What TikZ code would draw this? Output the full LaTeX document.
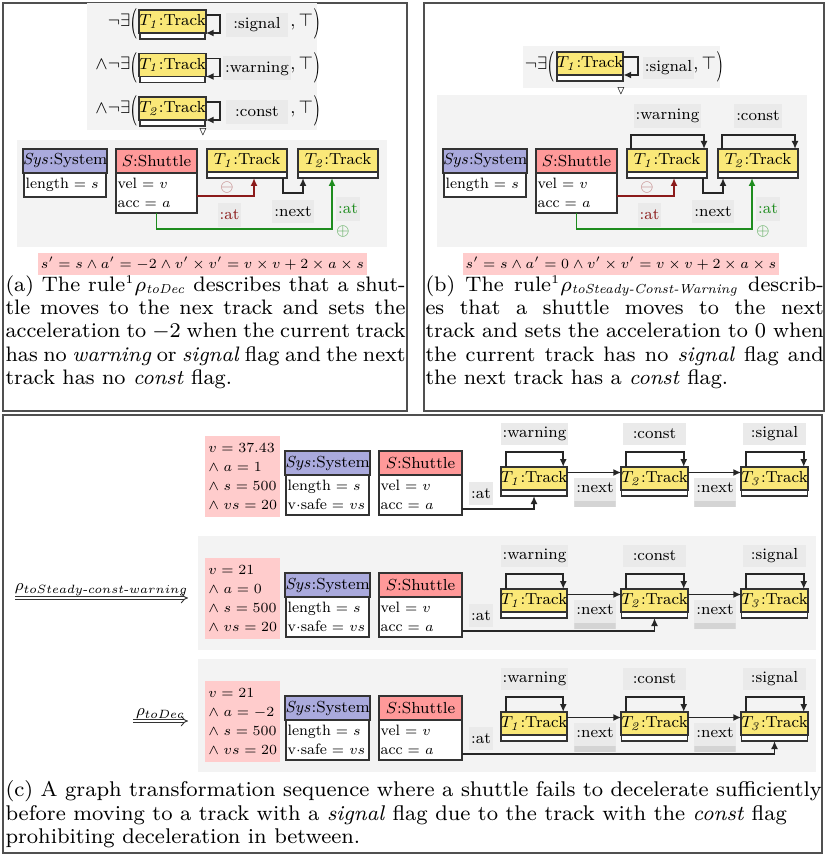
\documentclass[tikz,border=0pt]{standalone}
\usepackage{amsmath,amssymb,graphicx}
\usetikzlibrary{positioning,calc,arrows.meta}
\definecolor{graybg}{HTML}{F3F3F3}
\definecolor{lblgray}{HTML}{EAEAEA}
\definecolor{lbldark}{HTML}{D4D4D4}
\definecolor{condpink}{HTML}{FFCCCC}
\definecolor{sysblue}{HTML}{AAAADD}
\definecolor{shutred}{HTML}{FF9999}
\definecolor{trackyel}{HTML}{FAE878}
\definecolor{delred}{HTML}{8B1A1A}
\definecolor{addgreen}{HTML}{1E8C1E}
\definecolor{framegray}{HTML}{505050}
\newcommand{\diafont}{\fontsize{8}{9.5}\selectfont}
\newcommand{\attrfont}{\fontsize{7.5}{9.5}\selectfont}
\newcommand{\captfont}{\fontsize{8}{8.9}\selectfont}
\newcommand{\quantfont}{\fontsize{9}{10}\selectfont}
\newcommand{\capsub}[1]{\text{\fontsize{5}{5.5}\selectfont\itshape #1}}
\newcommand{\capsup}{\textsuperscript{\fontsize{4.5}{5}\selectfont 1}}
\newcommand{\lpar}{\raisebox{-2.6pt}{\scalebox{1}[1.7]{(}}}
\newcommand{\rpar}{\raisebox{-2.6pt}{\scalebox{1}[1.7]{)}}}
\tikzset{
  objhead/.style={draw=black!80,line width=0.9pt,minimum height=12pt,inner sep=0pt,outer sep=0pt},
  objbody/.style={draw=black!80,line width=0.9pt,fill=white,inner xsep=0.8pt,inner ysep=2.6pt,outer sep=0pt,align=left,font=\attrfont},
  objstrip/.style={draw=black!80,line width=0.9pt,fill=white,minimum height=3pt,inner sep=0pt,outer sep=0pt},
  flaglbl/.style={fill=lblgray,inner sep=1pt,minimum height=11.5pt},
  nextlbl/.style={flaglbl,minimum width=19pt,inner ysep=1.5pt,text height=6pt,text depth=5.5pt,
    path picture={\fill[lbldark] (path picture bounding box.south west) rectangle ([yshift=3pt]path picture bounding box.south east);}},
  condbox/.style={fill=condpink,inner sep=1.5pt,align=left,font=\attrfont},
  conn/.style={draw=black!85,line width=0.8pt,-{Latex[length=4pt,width=3.5pt]}},
  dblarr/.style={draw=black!80,double,double distance=1.4pt,line width=0.45pt,-{Implies}},
  quant/.style={font=\quantfont,inner sep=0.5pt},
  panelframe/.style={draw=framegray,line width=0.7pt},
  capnode/.style={font=\captfont,anchor=north west,inner sep=0pt},
}
% class box: name, x, top, width, colour, title, attributes
\newcommand{\objbox}[7]{\pgfmathsetlengthmacro\bodyw{#4-1.6pt}%
  \node[objhead,fill=#5,minimum width=#4,anchor=north] (#1) at (#2,#3) {#6};
  \node[objbody,text width=\bodyw,below=0pt of #1] (#1b) {#7};}
% track: name, x, top, width, title
\newcommand{\trackbox}[5]{%
  \node[objhead,fill=trackyel,minimum width=#4,minimum height=11.5pt,anchor=north] (#1) at (#2,#3) {#5};
  \node[objstrip,minimum width=#4,below=0pt of #1] (#1b) {};}
% rule graph of (a) and (b): prefix, x offset
\newcommand{\rulegraph}[2]{\begin{scope}[shift={(#2,0)}]
  \fill[graybg] (17,140) rectangle (387,247);
  \objbox{#1sys}{65}{149}{41pt}{sysblue}{$\mathit{Sys}$:System}{length $=$ $s$}
  \objbox{#1sh}{156.5}{149}{40.5pt}{shutred}{$S$:Shuttle}{vel $=$ $v$\\acc $=$ $a$}
  \trackbox{#1ta}{247}{149}{40pt}{$T_{\mathit{1}}$:Track}
  \trackbox{#1tb}{338}{149}{40pt}{$T_{\mathit{2}}$:Track}
  \draw[conn,delred] ([yshift=-11.5pt]#1shb.north east) -| ([xshift=3.5pt]#1tab.south);
  \node[text=delred!60] (#1del) at (227,188) {$\ominus$};
  \node[flaglbl,text=delred,minimum width=11.5pt,minimum height=12pt] (#1atd) at (229.5,215) {:at};
  \draw[conn] ([xshift=-2pt]#1tab.south east) -- ++(0,-7.5pt) -| ([xshift=2.5pt]#1tbb.south west);
  \node[flaglbl,minimum width=19pt] (#1nx) at (293,211.5) {:next};
  \draw[conn,addgreen] (#1shb.south) -- ++(0,-8pt) -| ([xshift=-3pt]#1tbb.south);
  \node[flaglbl,text=addgreen,minimum width=10pt,minimum height=12pt] (#1atc) at (348,209) {:at};
  \node[text=addgreen!80] (#1add) at (343,232) {$\oplus$};
\end{scope}}
% one state of the sequence (c): prefix, y offset, v, a, track of shuttle
\newcommand{\seqrow}[5]{\begin{scope}[shift={(0,#2)}]
  \node[condbox,anchor=north west,minimum height=40.5pt,minimum width=36pt] (#1c) at (205,436) {$v = #3$\\$\wedge\; a = #4$\\$\wedge\; s = 500$\\$\wedge\; vs = 20$};
  \objbox{#1sys}{327.5}{451}{41.5pt}{sysblue}{$\mathit{Sys}$:System}{length $=$ $s$\\v$\cdot$safe $=$ $vs$}
  \objbox{#1sh}{420.5}{451}{41.5pt}{shutred}{$S$:Shuttle}{vel $=$ $v$\\acc $=$ $a$}
  \trackbox{#1ta}{534}{467}{33pt}{$T_{\mathit{1}}$:Track}
  \trackbox{#1tb}{654.5}{467}{33pt}{$T_{\mathit{2}}$:Track}
  \trackbox{#1tc}{774.5}{467}{33pt}{$T_{\mathit{3}}$:Track}
  \node[flaglbl,minimum width=31.5pt,minimum height=11pt] (#1fa) at (534.5,434) {:warning};
  \node[flaglbl,minimum width=31.5pt,minimum height=11pt] (#1fb) at (654.5,434) {:const};
  \node[flaglbl,minimum width=31.5pt,minimum height=11pt] (#1fc) at (774.5,434) {:signal};
  \foreach \tk in {ta,tb,tc}
    \draw[conn] ([xshift=2.5pt]#1\tk.north west) -- ++(0,7.5pt) -| ([xshift=-2pt]#1\tk.north east);
  \draw[conn] ([yshift=3pt]#1ta.east) -- ([yshift=3pt]#1tb.west);
  \draw[conn] ([yshift=3pt]#1tb.east) -- ([yshift=3pt]#1tc.west);
  \node[nextlbl] (#1na) at (595,492) {:next};
  \node[nextlbl] (#1nb) at (715,492) {:next};
  \node[flaglbl,minimum width=11pt] (#1at) at (481,493.5) {:at};
  \draw[conn] ([yshift=3pt]#1shb.south east) -| (#1#5b.south);
\end{scope}}

\begin{document}
\begin{tikzpicture}[x=0.5pt,y=-0.5pt,font=\diafont]
\useasboundingbox (0,0) rectangle (826,854);
\draw[panelframe] (3,3) rectangle (407,411);
\draw[panelframe] (424,3) rectangle (824,411);
\draw[panelframe] (3,415) rectangle (822,853);

% (a) application condition
\fill[graybg] (87,3) rectangle (317,130);
\trackbox{naa}{172.5}{10}{32.5pt}{$T_{\mathit{1}}$:Track}
\trackbox{nab}{172.5}{53.5}{32.5pt}{$T_{\mathit{1}}$:Track}
\trackbox{nac}{172.5}{97}{32.5pt}{$T_{\mathit{2}}$:Track}
\node[quant,anchor=east] (qaa) at (139,24) {$\neg\exists$\lpar};
\node[quant,anchor=east] (qab) at (139,67.5) {$\wedge\neg\exists$\lpar};
\node[quant,anchor=east] (qac) at (139,111) {$\wedge\neg\exists$\lpar};
\foreach \nn in {naa,nab,nac}
  \draw[conn] ([yshift=-2.5pt]\nn.north east) -- ++(7pt,0) |- (\nn.south east);
\node[flaglbl,minimum width=31pt,minimum height=12pt] (faa) at (257,25) {:signal};
\node[flaglbl,minimum width=31pt,minimum height=12pt] (fab) at (257,68.5) {:warning};
\node[flaglbl,minimum width=31pt,minimum height=12pt] (fac) at (257,112) {:const};
\node[quant,anchor=west] (eaa) at (289,24) {$,\top$\rpar};
\node[quant,anchor=west] (eab) at (289,67.5) {$,\top$\rpar};
\node[quant,anchor=west] (eac) at (289,111) {$,\top$\rpar};
\node[font=\fontsize{6}{6}\selectfont,inner sep=0pt] (tria) at (203,132) {$\triangledown$};

% (a) rule
\rulegraph{a}{0}
\node[condbox,minimum width=159.5pt,minimum height=11pt] (conda) at (202.5,264) {$s' = s \wedge a' = -2 \wedge v' \times v' = v \times v + 2 \times a \times s$};
\node[capnode,scale=1.31,align=justify,text width=152.7pt] (capa) at (5,275) {(a) The rule\capsup$\rho_{\capsub{toDec}}$ describes that a shut-\linebreak tle moves to the nex track and sets the\linebreak acceleration to $-2$ when the current track\linebreak has no \textit{warning} or \textit{signal} flag and the next\linebreak track has no \textit{const} flag.};

% (b) application condition
\fill[graybg] (523,46) rectangle (720,88);
\trackbox{nba}{590}{52}{33pt}{$T_{\mathit{1}}$:Track}
\node[quant,anchor=east] (qba) at (556,67) {$\neg\exists$\lpar};
\draw[conn] ([yshift=-2.5pt]nba.north east) -- ++(7.5pt,0) |- (nba.south east);
\node[flaglbl,minimum width=23.5pt,minimum height=11pt] (fba) at (668.5,68) {:signal};
\node[quant,anchor=west] (eba) at (692,67) {$,\top$\rpar};
\node[font=\fontsize{6}{6}\selectfont,inner sep=0pt] (trib) at (621,91) {$\triangledown$};

% (b) rule
\fill[graybg] (437,95) rectangle (807,140);
\rulegraph{b}{420}
\node[flaglbl,minimum width=30.5pt,minimum height=12pt] (fbw) at (667.5,116) {:warning};
\node[flaglbl,minimum width=22pt,minimum height=12pt] (fbc) at (758,116) {:const};
\draw[conn] ([xshift=2pt]bta.north west) -- ++(0,7pt) -| ([xshift=-1.5pt]bta.north east);
\draw[conn] ([xshift=2pt]btb.north west) -- ++(0,7pt) -| ([xshift=-1.5pt]btb.north east);
\node[condbox,minimum width=152pt,minimum height=11pt] (condb) at (621,264) {$s' = s \wedge a' = 0 \wedge v' \times v' = v \times v + 2 \times a \times s$};
\node[capnode,scale=1.31,align=justify,text width=152pt] (capb) at (425,275) {(b) The rule\capsup$\rho_{\capsub{toSteady-Const-Warning}}$ describ-\linebreak es that a shuttle moves to the next\linebreak track and sets the acceleration to 0 when\linebreak the current track has no \textit{signal} flag and\linebreak the next track has a \textit{const} flag.};

% (c) sequence
\seqrow{ra}{0}{37.43}{1}{ta}
\fill[graybg] (198,536) rectangle (816,650);
\seqrow{rb}{122}{21}{0}{tb}
\fill[graybg] (198,659) rectangle (816,772);
\seqrow{rc}{245}{21}{-2}{tc}
\coordinate (ga) at (15,598);
\coordinate (gb) at (188,598);
\draw[dblarr] (ga) -- (gb) node[midway,above,inner sep=1pt] (lgab) {$\rho_{toSteady\text{-}const\text{-}warning}$};
\coordinate (gc) at (133,721);
\coordinate (gd) at (188,721);
\draw[dblarr] (gc) -- (gd) node[midway,above,inner sep=1pt] (lgcd) {$\rho_{toDec}$};
\node[capnode,scale=1.33,align=left] (capc) at (5,780) {(c) A graph transformation sequence where a shuttle fails to decelerate sufficiently\\before moving to a track with a \textit{signal} flag due to the track with the \textit{const} flag\\prohibiting deceleration in between.};
\end{tikzpicture}
\end{document}
